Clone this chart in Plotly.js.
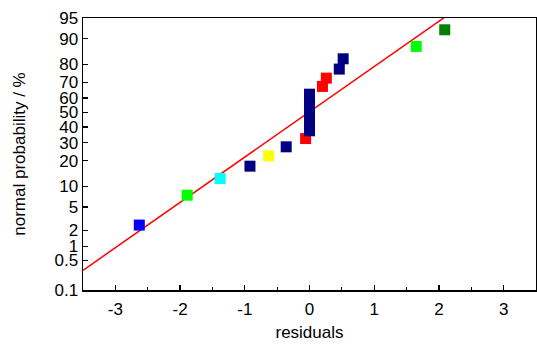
<!DOCTYPE html>
<html><head><meta charset="utf-8">
<script src="https://cdn.plot.ly/plotly-3.0.1.min.js"></script>
<style>html,body{margin:0;padding:0;background:#fff}#chart{width:537px;height:345px}</style>
</head><body><div id="chart"></div>
<script>
// residuals and normal probability (%) of each point
const residuals = [-2.63, -1.89, -1.38, -0.92, -0.63, -0.36, -0.06, 0.0, 0.0, 0.0, 0.0, 0.0, 0.0, 0.20, 0.26, 0.46, 0.52, 1.65, 2.09];
const probability = [2.5, 7.5, 12.5, 17.5, 22.5, 27.5, 32.5, 37.5, 42.5, 47.5, 52.5, 57.5, 62.5, 67.5, 72.5, 77.5, 82.5, 87.5, 92.5];
const pointColors = ['#0000ff','#00ff00','#00ffff','#000080','#ffff00','#000080','#ff0000','#000080','#000080','#000080','#000080','#000080','#000080','#ff0000','#ff0000','#000080','#000080','#00ff00','#007f00'];
// fitted line end points
const fitResiduals = [-3.5, 3.5];
const fitProbability = [0.30, 99.72];
// y tick labels (percent)
const yTicks = [0.1, 0.5, 1, 2, 5, 10, 20, 30, 40, 50, 60, 70, 80, 90, 95];

// probit scale: inverse standard normal CDF (Acklam)
function probit(pct){
  const p = pct/100;
  const a=[-3.969683028665376e+01,2.209460984245205e+02,-2.759285104469687e+02,1.383577518672690e+02,-3.066479806614716e+01,2.506628277459239e+00];
  const b=[-5.447609879822406e+01,1.615858368580409e+02,-1.556989798598866e+02,6.680131188771972e+01,-1.328068155288572e+01];
  const c=[-7.784894002430293e-03,-3.223964580411365e-01,-2.400758277161838e+00,-2.549732539343734e+00,4.374664141464968e+00,2.938163982698783e+00];
  const d=[7.784695709041462e-03,3.224671290700398e-01,2.445134137142996e+00,3.754408661907416e+00];
  const pl=0.02425, ph=1-pl; let q,r;
  if(p<pl){q=Math.sqrt(-2*Math.log(p));return (((((c[0]*q+c[1])*q+c[2])*q+c[3])*q+c[4])*q+c[5])/((((d[0]*q+d[1])*q+d[2])*q+d[3])*q+1);}
  if(p>ph){q=Math.sqrt(-2*Math.log(1-p));return -(((((c[0]*q+c[1])*q+c[2])*q+c[3])*q+c[4])*q+c[5])/((((d[0]*q+d[1])*q+d[2])*q+d[3])*q+1);}
  q=p-0.5;r=q*q;
  return (((((a[0]*r+a[1])*r+a[2])*r+a[3])*r+a[4])*r+a[5])*q/(((((b[0]*r+b[1])*r+b[2])*r+b[3])*r+b[4])*r+1);
}

const font = {family:'Arial, Liberation Sans, sans-serif', size:17, color:'#000'};
const traces = [
  {x: fitResiduals, y: fitProbability.map(probit), mode:'lines', line:{color:'#ff0000', width:1.5}, hoverinfo:'skip'},
  {x: residuals, y: probability.map(probit), mode:'markers', cliponaxis:false,
   marker:{symbol:'square', size:11, color:pointColors, line:{width:0}}}
];
const layout = {
  width:537, height:345, showlegend:false,
  margin:{l:83, r:1, t:18, b:55},
  paper_bgcolor:'#fff', plot_bgcolor:'#fff', font: font,
  xaxis:{range:[-3.5,3.5], tickvals:[-3,-2,-1,0,1,2,3], ticktext:['-3','-2','-1','0','1','2','3'],
    ticks:'inside', ticklen:5, tickwidth:1.2, tickcolor:'#000', ticklabelstandoff:3,
    minor:{tickvals:[-2.5,-1.5,-0.5,0.5,1.5,2.5], ticks:'inside', ticklen:3, tickwidth:1.2, tickcolor:'#000'},
    showline:true, linecolor:'#000', linewidth:1.5, mirror:true, showgrid:false, zeroline:false,
    tickfont:font, title:{text:'residuals', font:font, standoff:8}},
  yaxis:{range:[probit(0.1), probit(95)], tickvals:yTicks.map(probit), ticktext:yTicks.map(String),
    ticks:'inside', ticklen:5, tickwidth:1.2, tickcolor:'#000',
    showline:true, linecolor:'#000', linewidth:1.5, mirror:true, showgrid:false, zeroline:false,
    tickfont:font, title:{text:'normal probability / %', font:font, standoff:24}}
};
Plotly.newPlot('chart', traces, layout, {displayModeBar:false, staticPlot:true});
</script></body></html>
